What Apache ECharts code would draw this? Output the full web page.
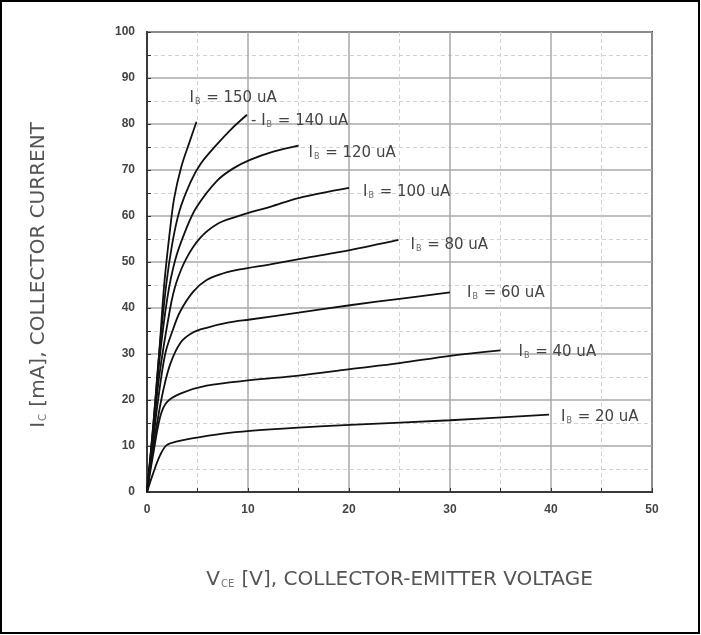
<!DOCTYPE html>
<html>
<head>
<meta charset="utf-8">
<script src="https://cdn.jsdelivr.net/npm/echarts@6/dist/echarts.min.js"></script>
<style>html,body{margin:0;padding:0;background:#fff;}#c{width:701px;height:635px;}</style>
</head>
<body>
<div id="c"></div>
<script>
var xTicks = [0, 10, 20, 30, 40, 50];
var yTicks = [0, 10, 20, 30, 40, 50, 60, 70, 80, 90, 100];

var labels = ['150', '140', '120', '100', '80', '60', '40', '20'];

var ib150 = [[0,0],[0.6,14],[1.2,30],[1.7,45],[2.28,57],[2.7,64],[3.4,70.7],[4.2,76],[4.9,80.5]];
var ib140 = [[0,0],[0.6,14],[1.2,30],[1.9,45],[2.5,54],[3.2,61],[4.3,67.3],[5.3,71.3],[6.9,75.5],[8.3,78.8],[9.9,82]];
var ib120 = [[0,0],[0.6,13],[1.2,28],[2,42],[2.8,50.5],[3.9,57.3],[4.9,61.9],[6.9,67.6],[8.5,70.3],[10.2,72.2],[12.5,74],[15,75.3]];
var ib100 = [[0,0],[0.6,12],[1.2,25],[2.3,40],[2.9,45.5],[3.9,50.8],[5.25,55.2],[7,58.3],[8.8,59.8],[10.2,60.8],[12.2,62],[15,63.9],[20,66.1]];
var ib80  = [[0,0],[0.6,11],[1.1,20],[1.8,30],[2.6,35.5],[3.3,39.3],[4.6,43.6],[5.9,46.1],[7.5,47.5],[9.2,48.4],[12.2,49.5],[16,51],[20.1,52.6],[24.9,54.8]];
var ib60  = [[0,0],[0.5,8],[1,15],[1.6,22],[2.3,27.8],[3.3,32.4],[4.5,34.6],[5.9,35.7],[8,36.8],[10.2,37.5],[15,39],[20.1,40.6],[25,42],[30,43.4]];
var ib40  = [[0,0],[0.6,8],[1.3,16.3],[1.95,19.5],[3.3,21.4],[5.9,23.1],[10.2,24.3],[15,25.3],[20.1,26.7],[25,28],[30,29.6],[35,30.8]];
var ib20  = [[0,0],[0.6,4],[1.3,8],[1.95,10.2],[3,11],[4.3,11.6],[7.5,12.7],[10.2,13.3],[15,14],[20.1,14.6],[30,15.6],[39.8,16.8]];

var seriesData = [ib150, ib140, ib120, ib100, ib80, ib60, ib40, ib20];
var labelOffsets = [[-15, -24], [-4, 6], [2, 7], [6, 4], [4, 5], [9, 1], [10, 2], [4, 2]];

var rich = {
  a: {fontFamily: 'DejaVu Sans', fontSize: 15, color: '#444'},
  s: {fontFamily: 'DejaVu Sans', fontSize: 8, color: '#666', padding: [8, 1, 0, 1]}
};

var series = seriesData.map(function (d, i) {
  return {
    type: 'line',
    data: d,
    smooth: 0.35,
    showSymbol: false,
    symbol: 'none',
    lineStyle: {color: '#111', width: 1.8},
    silent: true,
    z: 5,
    endLabel: {
      show: true,
      offset: labelOffsets[i],
      formatter: (i === 1 ? '{a|- }' : '') + '{a|I}{s|B}{a| = ' + labels[i] + ' uA}',
      rich: rich
    }
  };
});

var titleRich = {s: {fontFamily: 'DejaVu Sans', fontSize: 10, color: '#777', padding: [9, 1, 0, 1]}};

var chart = echarts.init(document.getElementById('c'), null, {renderer: 'canvas'});
chart.setOption({
  animation: false,
  backgroundColor: '#fff',
  grid: {left: 147, right: 49, top: 32, bottom: 143, show: true, borderColor: '#3a3a3a', borderWidth: 2, containLabel: false},
  xAxis: {
    type: 'value', min: xTicks[0], max: xTicks[xTicks.length - 1], interval: 10,
    axisLine: {show: true, lineStyle: {color: '#3a3a3a', width: 2}},
    axisTick: {show: true, inside: true, length: 4, lineStyle: {color: '#333'}},
    minorTick: {show: true, splitNumber: 2, length: 4, lineStyle: {color: '#333'}},
    axisLabel: {margin: 12, fontSize: 12, fontWeight: 'bold', color: '#444', fontFamily: 'Liberation Sans'},
    splitLine: {show: true, lineStyle: {color: '#a8a8a8', width: 1.5}},
    minorSplitLine: {show: true, lineStyle: {color: '#d2d2d2', type: [4, 3], width: 1}},
    name: 'V{s|CE} [V], COLLECTOR-EMITTER VOLTAGE',
    nameLocation: 'middle', nameGap: 78,
    nameTextStyle: {fontFamily: 'DejaVu Sans', fontSize: 20, color: '#555', rich: titleRich}
  },
  yAxis: {
    type: 'value', min: yTicks[0], max: yTicks[yTicks.length - 1], interval: 10,
    axisLine: {show: true, lineStyle: {color: '#3a3a3a', width: 2}},
    axisTick: {show: true, inside: true, length: 4, lineStyle: {color: '#333'}},
    minorTick: {show: true, splitNumber: 2, length: 4, lineStyle: {color: '#333'}},
    axisLabel: {margin: 12, fontSize: 12, fontWeight: 'bold', color: '#444', fontFamily: 'Liberation Sans'},
    splitLine: {show: true, lineStyle: {color: '#a8a8a8', width: 1.5}},
    minorSplitLine: {show: true, lineStyle: {color: '#d2d2d2', type: [4, 3], width: 1}},
    name: 'I{s|C} [mA], COLLECTOR CURRENT',
    nameLocation: 'middle', nameGap: 98, nameRotate: 90,
    nameTextStyle: {fontFamily: 'DejaVu Sans', fontSize: 20, color: '#555', rich: titleRich, padding: [0, 26, 0, 0]}
  },
  graphic: [{
    type: 'rect', silent: true,
    shape: {x: 1, y: 1, width: 698, height: 632},
    style: {fill: 'none', stroke: '#000', lineWidth: 2}
  }],
  series: series
});
</script>
</body>
</html>
